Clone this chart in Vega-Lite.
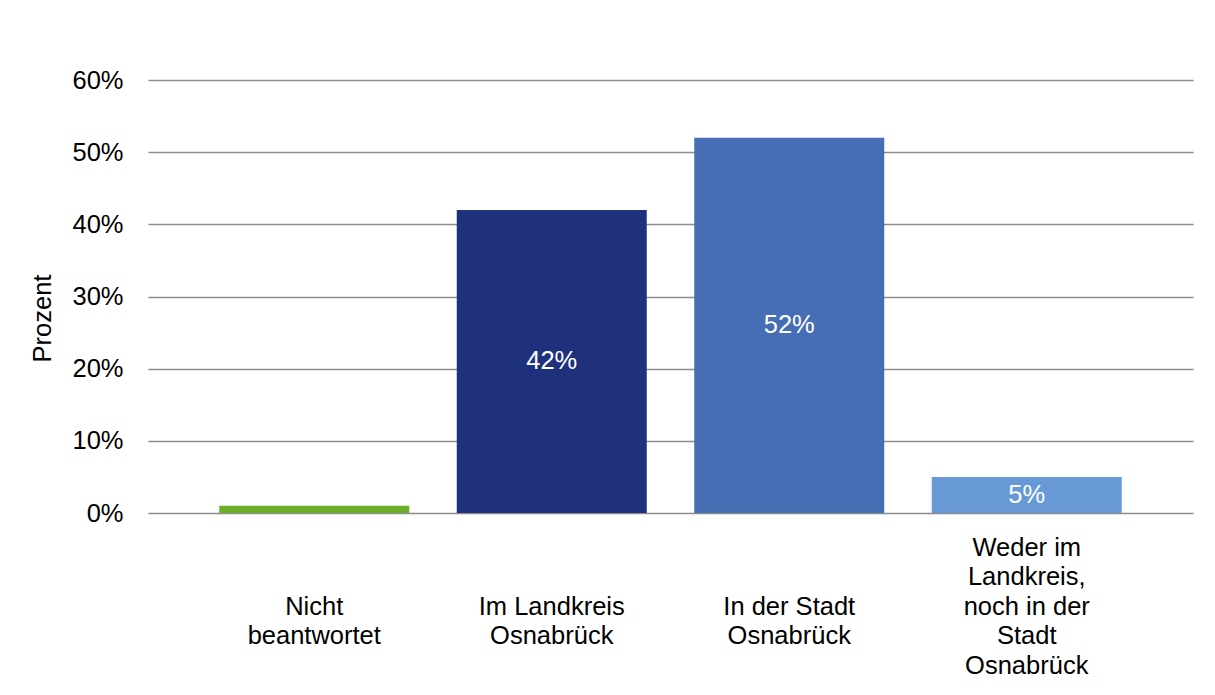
{
  "$schema": "https://vega.github.io/schema/vega-lite/v6.json",
  "width": 1045,
  "height": 433,
  "autosize": "none",
  "padding": {"left": 148, "top": 80, "right": 22, "bottom": 182},
  "background": "white",
  "config": {
    "font": "Liberation Sans",
    "view": {"stroke": null},
    "axis": {"labelFont": "Liberation Sans", "titleFont": "Liberation Sans"}
  },
  "data": {
    "values": [
      {"kategorie": "Nicht beantwortet", "wert": 0.01},
      {"kategorie": "Im Landkreis Osnabrück", "wert": 0.42},
      {"kategorie": "In der Stadt Osnabrück", "wert": 0.52},
      {"kategorie": "Weder im Landkreis, noch in der Stadt Osnabrück", "wert": 0.05}
    ]
  },
  "encoding": {
    "x": {
      "field": "kategorie",
      "type": "nominal",
      "sort": null,
      "scale": {"paddingInner": 0.2, "paddingOuter": 0.3},
      "axis": {
        "title": null,
        "domain": false,
        "ticks": false,
        "labelAngle": 0,
        "labelFontSize": 25.5,
        "labelColor": "#000000",
        "labelBaseline": "middle",
        "labelLineHeight": 29.5,
        "labelPadding": 34,
        "labelExpr": "datum.value == 'Nicht beantwortet' ? ['\u200b', '\u200b', 'Nicht', 'beantwortet'] : datum.value == 'Im Landkreis Osnabrück' ? ['\u200b', '\u200b', 'Im Landkreis', 'Osnabrück'] : datum.value == 'In der Stadt Osnabrück' ? ['\u200b', '\u200b', 'In der Stadt', 'Osnabrück'] : ['Weder im', 'Landkreis,', 'noch in der', 'Stadt', 'Osnabrück']"
      }
    }
  },
  "layer": [
    {
      "mark": {"type": "bar"},
      "encoding": {
        "y": {
          "field": "wert",
          "type": "quantitative",
          "scale": {"domain": [0, 0.6], "nice": false},
          "axis": {
            "title": "Prozent",
            "titleFontSize": 25.5,
            "titleFontWeight": "normal",
            "titleColor": "#000000",
            "titleAngle": -90,
            "titleX": -106,
            "titleY": 238,
            "titleAlign": "center",
            "titleBaseline": "middle",
            "format": ".0%",
            "values": [0, 0.1, 0.2, 0.3, 0.4, 0.5, 0.6],
            "labelFontSize": 25.5,
            "labelColor": "#000000",
            "labelPadding": 25,
            "domain": false,
            "ticks": false,
            "grid": true,
            "gridColor": "#8c8c8c",
            "gridWidth": 1.5
          }
        },
        "color": {
          "field": "kategorie",
          "type": "nominal",
          "sort": null,
          "legend": null,
          "scale": {
            "domain": ["Nicht beantwortet", "Im Landkreis Osnabrück", "In der Stadt Osnabrück", "Weder im Landkreis, noch in der Stadt Osnabrück"],
            "range": ["#6DAF2A", "#1F317D", "#456EB5", "#6699D5"]
          }
        }
      }
    },
    {
      "transform": [{"filter": "datum.wert >= 0.03"}],
      "mark": {"type": "text", "color": "white", "fontSize": 25.5, "baseline": "middle", "align": "center"},
      "encoding": {
        "y": {"field": "wert", "type": "quantitative", "stack": "zero", "bandPosition": 0.5},
        "text": {"field": "wert", "type": "quantitative", "format": ".0%"}
      }
    }
  ]
}
